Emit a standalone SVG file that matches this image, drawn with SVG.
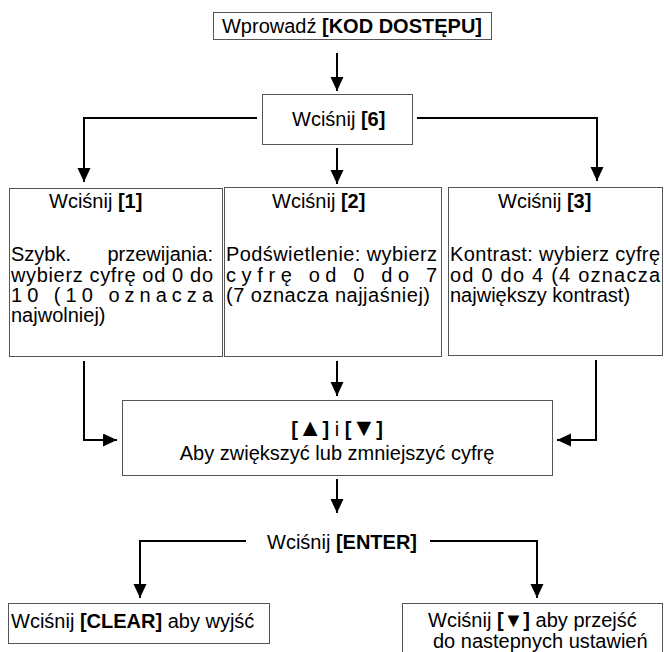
<svg xmlns="http://www.w3.org/2000/svg" width="664" height="652" viewBox="0 0 664 652">
<defs>
<marker id="ah" markerUnits="userSpaceOnUse" markerWidth="14" markerHeight="14" refX="14" refY="6.5" orient="auto"><path d="M0,0 L14,6.5 L0,13 Z" fill="#000"/></marker>
</defs>
<style>
text{font-family:"Liberation Sans",Arial,sans-serif;font-size:20px;fill:#000}
.b{font-weight:bold}
.t{font-size:25px}
.box{fill:#fff;stroke:#555;stroke-width:1}
.c{fill:none;stroke:#000;stroke-width:2;marker-end:url(#ah)}
.m{text-anchor:middle}
.e{text-anchor:end}
</style>
<rect width="664" height="652" fill="#fff"/>
<g id="start">
<rect class="box" x="213.5" y="12.5" width="278" height="27"/>
<text x="352" y="33" class="m">Wprowadź <tspan class="b">[KOD DOSTĘPU]</tspan></text>
</g>
<g id="n6">
<rect class="box" x="262.5" y="94.5" width="150" height="50"/>
<text x="292" y="126">Wciśnij <tspan class="b">[6]</tspan></text>
</g>
<g id="n1">
<rect class="box" x="9.5" y="188.5" width="213" height="168"/>
<text x="49" y="208">Wciśnij <tspan class="b">[1]</tspan></text>
<text x="11" y="261">Szybk.</text>
<text x="213" y="261" class="e">przewijania:</text>
<text x="11" y="281.5" textLength="202" lengthAdjust="spacing">wybierz cyfrę od 0 do</text>
<text x="11" y="302" textLength="202" lengthAdjust="spacing">10 (10 oznacza</text>
<text x="11" y="322">najwolniej)</text>
</g>
<g id="n2">
<rect class="box" x="224.5" y="187.5" width="217" height="169"/>
<text x="272" y="208">Wciśnij <tspan class="b">[2]</tspan></text>
<text x="226" y="261" textLength="211" lengthAdjust="spacing">Podświetlenie: wybierz</text>
<text x="226" y="281.5" textLength="211" lengthAdjust="spacing">cyfrę od 0 do 7</text>
<text x="226" y="302" textLength="204" lengthAdjust="spacing">(7 oznacza najjaśniej)</text>
</g>
<g id="n3">
<rect class="box" x="448.5" y="187.5" width="214" height="168"/>
<text x="498" y="208">Wciśnij <tspan class="b">[3]</tspan></text>
<text x="450" y="261" textLength="210" lengthAdjust="spacing">Kontrast: wybierz cyfrę</text>
<text x="450" y="281.5" textLength="210" lengthAdjust="spacing">od 0 do 4 (4 oznacza</text>
<text x="450" y="302">największy kontrast)</text>
</g>
<g id="mid">
<rect class="box" x="122.5" y="400.5" width="430" height="75"/>
<text x="337" y="436" class="m"><tspan class="b">[<tspan class="t">▲</tspan>]</tspan> i <tspan class="b">[<tspan class="t">▼</tspan>]</tspan></text>
<text x="337" y="460" class="m">Aby zwiększyć lub zmniejszyć cyfrę</text>
</g>
<g id="enter">
<text x="342" y="549" class="m">Wciśnij <tspan class="b">[ENTER]</tspan></text>
</g>
<g id="clear">
<rect class="box" x="8.5" y="603.5" width="261" height="40"/>
<text x="11" y="628">Wciśnij <tspan class="b">[CLEAR]</tspan> aby wyjść</text>
</g>
<g id="next">
<rect class="box" x="402.5" y="603.5" width="260" height="60"/>
<text x="428" y="626.5">Wciśnij <tspan class="b">[▼]</tspan> aby przejść</text>
<text x="433" y="647.5">do nastepnych ustawień</text>
</g>
<g id="connectors">
<path class="c" d="M337,53 V91"/>
<path class="c" d="M257,118 H84 V182"/>
<path class="c" d="M417,118 H597 V181"/>
<path class="c" d="M337,148 V184"/>
<path class="c" d="M84,361 V440 H117"/>
<path class="c" d="M337,361 V396"/>
<path class="c" d="M596,360 V440 H557"/>
<path class="c" d="M337,479 V513"/>
<path class="c" d="M246,541 H140 V598"/>
<path class="c" d="M430,541 H537 V598"/>
</g>
</svg>
